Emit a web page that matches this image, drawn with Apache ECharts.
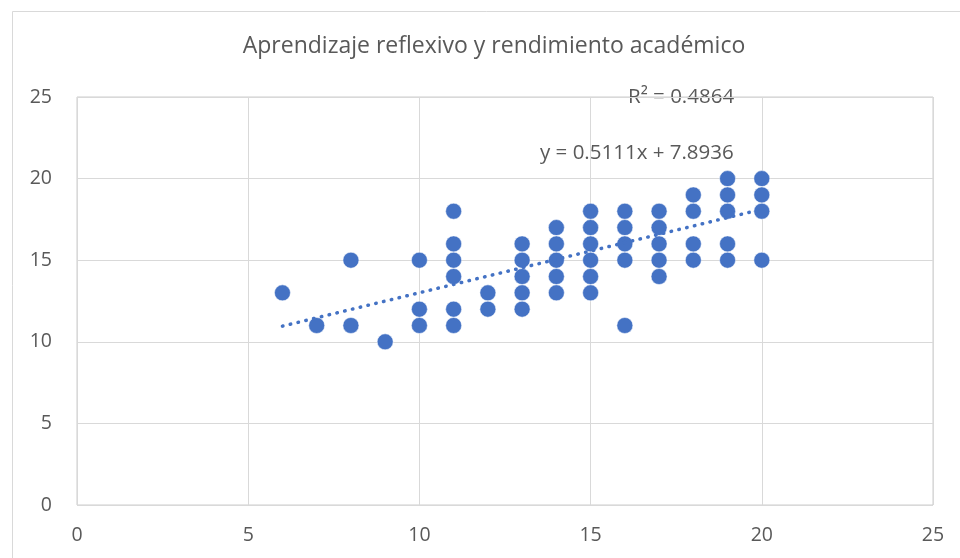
<!DOCTYPE html>
<html lang="es">
<head>
    <meta charset="UTF-8">
    <title>Aprendizaje reflexivo y rendimiento académico</title>
    <script type="text/javascript" src="https://cdn.jsdelivr.net/npm/echarts@6/dist/echarts.min.js"></script>
    <style>
        html, body { margin: 0; padding: 0; background: #fff; }
    </style>
</head>
<body>
<div id="main" style="width: 960px; height: 558px;"></div>
<script type="text/javascript">
    "use strict"
    // aprendizaje reflexivo (x) vs rendimiento academico (y)
    var reflexivo = [6, 7, 8, 8, 9, 10, 10, 10,
        11, 11, 11, 11, 11, 11, 12, 12,
        13, 13, 13, 13, 13, 14, 14, 14, 14, 14,
        15, 15, 15, 15, 15, 15, 16, 16, 16, 16, 16,
        17, 17, 17, 17, 17, 18, 18, 18, 18,
        19, 19, 19, 19, 19, 20, 20, 20, 20];
    var rendimiento = [13, 11, 11, 15, 10, 15, 12, 11,
        18, 16, 15, 14, 12, 11, 13, 12,
        16, 15, 14, 13, 12, 17, 16, 15, 14, 13,
        18, 17, 16, 15, 14, 13, 18, 17, 16, 15, 11,
        18, 17, 16, 15, 14, 19, 18, 16, 15,
        20, 19, 18, 16, 15, 20, 19, 18, 15];
    // linea de tendencia (extremos)
    var trendX = [6, 20];
    var trendY = [10.96, 18.12];
    var ticks = [0, 5, 10, 15, 20, 25];

    var font = '"Open Sans", sans-serif';
    var blue = '#4472C4';
    var gray = '#595959';

    var points = reflexivo.map(function (x, i) {
        return [x, rendimiento[i]];
    });
    var trend = trendX.map(function (x, i) {
        return [x, trendY[i]];
    });

    var axisCommon = {
        type: 'value',
        min: ticks[0],
        max: ticks[ticks.length - 1],
        interval: 5,
        axisLine: { show: false },
        axisTick: { show: false },
        splitLine: { lineStyle: { color: '#d9d9d9', width: 1 } }
    };

    var myChart = echarts.init(document.getElementById('main'));
    var option = {
        animation: false,
        backgroundColor: '#fff',
        title: {
            text: 'Aprendizaje reflexivo y rendimiento académico',
            left: 489,
            textAlign: 'center',
            top: 30,
            textStyle: { color: gray, fontSize: 23, fontWeight: 'normal', fontFamily: font }
        },
        grid: {
            left: 77, right: 27, top: 97, bottom: 53,
            show: true,
            borderColor: '#cccccc',
            borderWidth: 1
        },
        xAxis: Object.assign({}, axisCommon, {
            axisLabel: { color: gray, fontSize: 19.5, fontFamily: font, margin: 20 }
        }),
        yAxis: Object.assign({}, axisCommon, {
            axisLabel: { color: gray, fontSize: 19.5, fontFamily: font, margin: 25 }
        }),
        graphic: [
            {
                type: 'rect',
                shape: { x: 12.5, y: 11.5, width: 980, height: 580 },
                style: { fill: null, stroke: '#d9d9d9', lineWidth: 1 },
                silent: true
            },
            {
                type: 'text',
                left: 628, top: 87,
                style: { text: 'R² = 0.4864', fill: gray, fontSize: 20.5, fontFamily: font }
            },
            {
                type: 'text',
                left: 540, top: 143,
                style: { text: 'y = 0.5111x + 7.8936', fill: gray, fontSize: 20.5, fontFamily: font }
            }
        ],
        series: [
            {
                name: 'Tendencia',
                type: 'line',
                data: trend,
                symbol: 'none',
                z: 3,
                lineStyle: { color: blue, width: 3.5, type: [0.5, 7.5], cap: 'round' }
            },
            {
                name: 'Rendimiento',
                type: 'scatter',
                data: points,
                symbolSize: 16,
                z: 2,
                itemStyle: { color: blue, borderColor: '#fff', borderWidth: 0.5, opacity: 1 }
            }
        ]
    };
    myChart.setOption(option);
</script>
</body>
</html>
